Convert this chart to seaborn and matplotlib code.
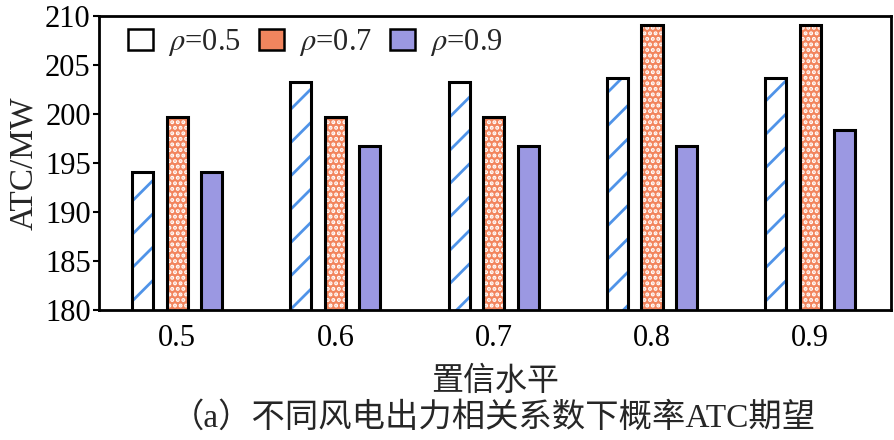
import matplotlib
matplotlib.use("Agg")
import matplotlib.pyplot as plt
import seaborn as sns
import pandas as pd
from matplotlib.patches import Patch

# ---- data ----
confidence = ["0.5", "0.6", "0.7", "0.8", "0.9"]
rho_labels = [r"$\rho$=0.5", r"$\rho$=0.7", r"$\rho$=0.9"]
atc_rho05 = [194.1, 203.3, 203.3, 203.7, 203.7]
atc_rho07 = [199.7, 199.7, 199.7, 209.1, 209.1]
atc_rho09 = [194.1, 196.7, 196.7, 196.7, 198.4]
y_ticks = [180, 185, 190, 195, 200, 205, 210]

df = pd.DataFrame({
    "conf": confidence * 3,
    "rho": [rho_labels[0]] * 5 + [rho_labels[1]] * 5 + [rho_labels[2]] * 5,
    "atc": atc_rho05 + atc_rho07 + atc_rho09,
})

sns.set_theme(style="white")
serif = "Liberation Serif"
plt.rcParams["font.family"] = [serif, "Noto Sans CJK SC", "DejaVu Sans"]
plt.rcParams["mathtext.fontset"] = "stix"
plt.rcParams["hatch.linewidth"] = 2.0

face = ["white", "#F2855E", "#9B98E2"]
hatch_col = ["#4F93E8", "#FFFFFF", "#9B98E2"]
hatches = ["/", "...", ""]

fig = plt.figure(figsize=(8.94, 4.40), dpi=100)
ax = fig.add_axes([99 / 894, 1 - 310 / 440, (891 - 99) / 894, (310 - 16) / 440])

sns.barplot(data=df, x="conf", y="atc", hue="rho", hue_order=rho_labels,
            order=confidence, width=0.655, gap=0.39, ax=ax, legend=False,
            errorbar=None, linewidth=0)
for i, cont in enumerate(ax.containers):
    for p in cont:
        p.set_facecolor(face[i])
        p.set_edgecolor(hatch_col[i])
        p.set_hatch(hatches[i])
        p.set_linewidth(0)

sns.barplot(data=df, x="conf", y="atc", hue="rho", hue_order=rho_labels,
            order=confidence, width=0.655, gap=0.39, ax=ax, legend=False,
            errorbar=None, fill=False, linewidth=2.2, edgecolor="black")
for cont in ax.containers[3:]:
    for p in cont:
        p.set_edgecolor("black")
        p.set_facecolor("none")
        p.set_linewidth(2.2)

ax.set_ylim(180, 210)
ax.set_xlim(-0.493, 4.51)
ax.set_yticks(y_ticks)
ax.set_yticklabels([str(t) for t in y_ticks])
for s in ax.spines.values():
    s.set_visible(True)
    s.set_color("black")
    s.set_linewidth(2.0)

ax.tick_params(axis="y", direction="out", length=4, width=1.5, labelsize=22,
               pad=2, left=True, colors="black")
ax.tick_params(axis="x", direction="in", length=6, width=1.5, labelsize=22,
               pad=10, bottom=True, colors="black")
for lab in ax.get_xticklabels() + ax.get_yticklabels():
    lab.set_fontfamily(serif)

ax.set_ylabel("ATC/MW", fontsize=24, family=serif, labelpad=4)
ax.set_xlabel("置信水平", fontsize=23, family=["Noto Sans CJK SC"], labelpad=9)

handles = [Patch(facecolor=face[i], edgecolor="black", linewidth=1.8)
           for i in range(3)]
handles[0] = Patch(facecolor="white", edgecolor="black", linewidth=1.8)
leg = ax.legend(handles, rho_labels, ncol=3, loc="upper left",
                bbox_to_anchor=(0.01, 1.035), frameon=False,
                prop={"family": serif, "size": 22},
                handlelength=0.8, handleheight=0.7, handletextpad=0.5,
                columnspacing=0.6, borderaxespad=0.3)

fig.text(0.552, 1 - 418 / 440, "（a）不同风电出力相关系数下概率ATC期望",
         ha="center", va="center", fontsize=24,
         family=[serif, "Noto Sans CJK SC"])

fig.savefig("out.png", dpi=100)
